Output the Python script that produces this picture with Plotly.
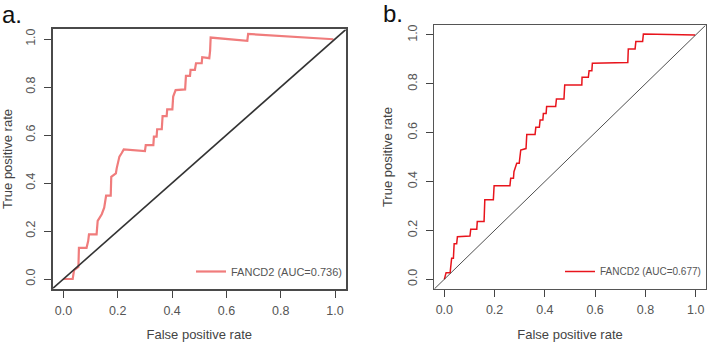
import plotly.graph_objects as go

W, H = 707, 342

# Panel a ROC curve (FANCD2, AUC=0.736)
fpr_a = [0.0, 0.034, 0.039, 0.055, 0.057, 0.085, 0.091, 0.094, 0.122, 0.126, 0.141, 0.150,
         0.157, 0.174, 0.176, 0.193, 0.196, 0.206, 0.214, 0.222, 0.300, 0.303, 0.331, 0.333,
         0.343, 0.345, 0.362, 0.365, 0.380, 0.382, 0.401, 0.404, 0.413, 0.448, 0.451, 0.466,
         0.468, 0.484, 0.488, 0.509, 0.511, 0.537, 0.540, 0.542, 0.677, 0.680, 0.994]
tpr_a = [0.0, 0.0, 0.037, 0.050, 0.130, 0.130, 0.158, 0.186, 0.186, 0.242, 0.270, 0.297,
         0.347, 0.347, 0.426, 0.440, 0.461, 0.510, 0.524, 0.540, 0.533, 0.558, 0.558, 0.593,
         0.593, 0.624, 0.624, 0.679, 0.679, 0.707, 0.707, 0.760, 0.787, 0.790, 0.846, 0.846,
         0.871, 0.871, 0.899, 0.899, 0.924, 0.920, 0.951, 1.006, 0.992, 1.021, 0.999]

# Panel b ROC curve (FANCD2, AUC=0.677)
fpr_b = [0.0, 0.007, 0.023, 0.025, 0.029, 0.036, 0.039, 0.049, 0.052, 0.102, 0.105, 0.129,
         0.131, 0.158, 0.161, 0.195, 0.198, 0.261, 0.264, 0.275, 0.277, 0.288, 0.298, 0.304,
         0.325, 0.328, 0.361, 0.364, 0.378, 0.381, 0.392, 0.394, 0.405, 0.407, 0.443, 0.446,
         0.476, 0.479, 0.547, 0.548, 0.573, 0.576, 0.587, 0.589, 0.730, 0.732, 0.759, 0.762,
         0.789, 0.792, 0.998]
tpr_b = [0.0, 0.027, 0.027, 0.059, 0.086, 0.086, 0.145, 0.145, 0.174, 0.177, 0.205, 0.205,
         0.236, 0.236, 0.325, 0.325, 0.383, 0.383, 0.413, 0.413, 0.440, 0.475, 0.475, 0.529,
         0.535, 0.593, 0.593, 0.622, 0.622, 0.652, 0.652, 0.679, 0.679, 0.707, 0.707, 0.738,
         0.738, 0.795, 0.795, 0.827, 0.827, 0.854, 0.854, 0.884, 0.887, 0.943, 0.943, 0.973,
         0.973, 1.004, 1.000]

diag = [-0.04, 1.04]
ticks = [0.0, 0.2, 0.4, 0.6, 0.8, 1.0]
tick_text = ["0.0", "0.2", "0.4", "0.6", "0.8", "1.0"]
labels = ["FANCD2 (AUC=0.736)", "FANCD2 (AUC=0.677)"]

FONT = "Liberation Sans, Arial, sans-serif"
fig = go.Figure()

fig.add_trace(go.Scatter(x=fpr_a, y=tpr_a, mode="lines", name=labels[0],
                         line=dict(color="#F07C7C", width=2.2), xaxis="x", yaxis="y",
                         legend="legend"))
fig.add_trace(go.Scatter(x=diag, y=diag, mode="lines", showlegend=False,
                         line=dict(color="#333333", width=1.6), xaxis="x", yaxis="y"))
fig.add_trace(go.Scatter(x=fpr_b, y=tpr_b, mode="lines", name=labels[1],
                         line=dict(color="#E8141C", width=1.5), xaxis="x2", yaxis="y2",
                         legend="legend2"))
fig.add_trace(go.Scatter(x=diag, y=diag, mode="lines", showlegend=False,
                         line=dict(color="#222222", width=0.8), xaxis="x2", yaxis="y2"))


def ax(domain, lw, lc, anchor, standoff):
    return dict(domain=domain, range=[-0.04, 1.04], tickmode="array", tickvals=ticks,
                ticktext=tick_text, ticks="outside", ticklen=7, tickwidth=1, tickcolor="#444",
                showline=True, linewidth=lw, linecolor=lc, mirror=True, showgrid=False,
                zeroline=False, anchor=anchor, ticklabelstandoff=standoff, automargin=False,
                tickfont=dict(size=12.5, color="#555", family=FONT))


TF = dict(size=13, color="#444", family=FONT)
xa = ax([52.6 / W, 345.9 / W], 2, "#4a4a4a", "y", 2)
xa["title"] = dict(text="False positive rate", font=TF, standoff=16)
ya = ax([1 - 288.6 / H, 1 - 29.4 / H], 2, "#4a4a4a", "x", 4)
ya["tickangle"] = -90
ya["title"] = dict(text="True positive rate", font=TF, standoff=10)
xb = ax([434.3 / W, 705.7 / W], 1, "#555", "y2", 2)
xb["title"] = dict(text="False positive rate", font=TF, standoff=16)
yb = ax([1 - 289 / H, 1 - 25.2 / H], 1, "#555", "x2", 4)
yb["tickangle"] = -90
yb["title"] = dict(text="True positive rate", font=TF, standoff=10)

fig.update_layout(
    width=W, height=H, margin=dict(l=0, r=0, t=0, b=0, autoexpand=False),
    paper_bgcolor="white", plot_bgcolor="white",
    font=dict(family=FONT, color="#444"),
    xaxis=xa, yaxis=ya, xaxis2=xb, yaxis2=yb,
    legend=dict(x=347 / W, y=1 - 286 / H, xanchor="right", yanchor="bottom",
                bgcolor="rgba(0,0,0,0)", font=dict(size=11, color="#555", family=FONT),
                itemwidth=30),
    legend2=dict(x=560 / W, y=1 - 286 / H, xanchor="left", yanchor="bottom",
                 bgcolor="rgba(0,0,0,0)", font=dict(size=10, color="#555", family=FONT),
                 itemwidth=30),
    annotations=[
        dict(text="a.", x=0, y=1, xref="paper", yref="paper", xanchor="left", yanchor="top",
             showarrow=False, font=dict(size=24, color="#111", family=FONT), yshift=1),
        dict(text="b.", x=381 / W, y=1, xref="paper", yref="paper", xanchor="left", yanchor="top",
             showarrow=False, font=dict(size=24, color="#111", family=FONT), yshift=2),
    ],
)

fig.write_html("out.html", config={"displayModeBar": False},
               post_script="document.body.style.margin='0';document.body.style.overflow='hidden';")
